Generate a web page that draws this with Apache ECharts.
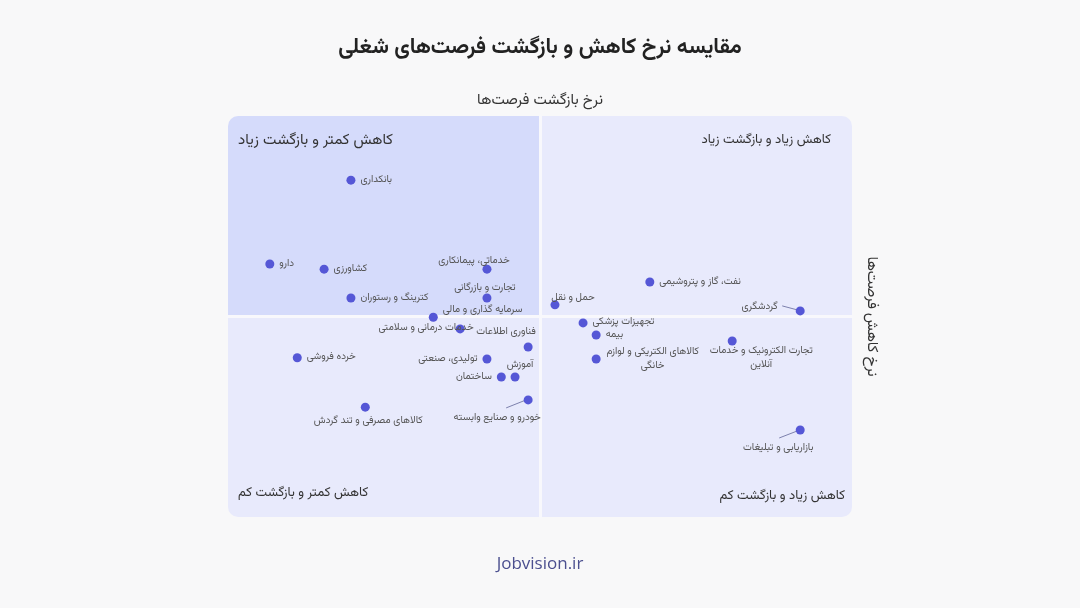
<!DOCTYPE html>
<html><head><meta charset="utf-8">
<script src="https://cdn.jsdelivr.net/npm/echarts@6/dist/echarts.min.js"></script>
<style>html,body{margin:0;padding:0;background:#f8f8f9;}#c{width:1080px;height:608px;}</style>
</head><body><div id="c"></div>
<script>
var FONT = '"Vazirmatn","Noto Sans Arabic","DejaVu Sans",sans-serif';
var titleText = 'مقایسه نرخ کاهش و بازگشت فرصت‌های شغلی';
var xAxisName = 'نرخ کاهش فرصت‌ها';
var yAxisName = 'نرخ بازگشت فرصت‌ها';
var footerText = 'Jobvision.ir';

// industries: names, decline (x, centred at 0) and return (y, centred at 0)
var industries = ['بانکداری','دارو','کشاورزی','خدماتی، پیمانکاری','تجارت و بازرگانی','کترینگ و رستوران','سرمایه گذاری و مالی','خدمات درمانی و سلامتی','فناوری اطلاعات','تولیدی، صنعتی','آموزش','ساختمان','خودرو و صنایع وابسته','کالاهای مصرفی و تند گردش','خرده فروشی','نفت، گاز و پتروشیمی','حمل و نقل','گردشگری','تجهیزات پزشکی','بیمه','کالاهای الکتریکی و لوازم\nخانگی','تجارت الکترونیک و خدمات\nآنلاین','بازاریابی و تبلیغات'];
var declineRate = [-30.3,-43.3,-34.6,-8.5,-8.5,-30.3,-17.1,-12.8,-1.9,-8.5,-4.0,-6.2,-1.9,-28.0,-38.9,17.6,2.4,41.7,6.9,9.0,9.0,30.8,41.7];
var returnRate  = [34.0,13.1,11.8,11.8,4.6,4.6,-0.2,-3.1,-7.6,-10.6,-15.1,-15.1,-20.8,-22.6,-10.3,8.6,2.9,1.4,-1.6,-4.6,-10.6,-6.1,-28.3];

// quadrants: [xFrom, xTo, yFrom, yTo], names
var quadrantBounds = [[-50,0,0,50],[0,50,0,50],[-50,0,-50,0],[0,50,-50,0]];
var quadrantNames = ['کاهش کمتر و بازگشت زیاد','کاهش زیاد و بازگشت زیاد','کاهش کمتر و بازگشت کم','کاهش زیاد و بازگشت کم'];

// label placement per point (style only): position, pixel shift, optional leader line offsets
var labelCfg = [
 {p:'right'},{p:'right'},{p:'right'},
 {p:'top',d:[-13,9]},{p:'top',d:[-2,7]},
 {p:'right'},{p:'right',d:[0,-7]},
 {p:'left',d:[23,0]},{p:'top',d:[-22,2]},
 {p:'left'},{p:'top',d:[5,5]},{p:'left'},
 {p:'bottom',d:[-31,2],line:[[-2,0],[-22,8]]},{p:'bottom',d:[3,-2]},
 {p:'right'},{p:'right'},{p:'top',d:[18,10]},
 {p:'left',d:[-13,-3],line:[[-18,-5],[-3,-1]]},{p:'right'},{p:'right'},
 {p:'right',align:'center',d:[47,0]},{p:'bottom',d:[29,-6],align:'center'},
 {p:'bottom',d:[-22,2],line:[[-3,1],[-21,8]]}
];

var scatterData = industries.map(function(n,i){
  var c = labelCfg[i];
  var d = {name:n, value:[declineRate[i], returnRate[i]], label:{position:c.p}};
  if(c.align) d.label.align = c.align;
  return d;
});
var leaderData = [];
labelCfg.forEach(function(c,i){ if(c.line) leaderData.push([declineRate[i], returnRate[i], i]); });

var quadColors = ['#d5dbfb','#e8eafc','#e8eafc','#e8eafc'];
var quadRadius = [[10,0,0,0],[0,10,0,0],[0,0,0,10],[0,0,10,0]];
var quadFont = [15,13,13,13];

var chart = echarts.init(document.getElementById('c'));
chart.setOption({
  backgroundColor:'#f8f8f9',
  animation:false,
  textStyle:{fontFamily:FONT},
  title:[
    {text:titleText,left:'center',top:34,textStyle:{fontFamily:FONT,fontSize:21.5,fontWeight:'bold',color:'#222'}},
    {text:footerText,left:'center',top:551,textStyle:{fontFamily:'"Open Sans",sans-serif',fontSize:17,fontWeight:'normal',color:'#4b4f8f'}}
  ],
  grid:{left:228,right:228,top:116,bottom:91},
  xAxis:{type:'value',min:-50,max:50,z:3,name:xAxisName,nameLocation:'end',nameRotate:-90,nameGap:26,
    nameTextStyle:{fontFamily:FONT,fontSize:15,color:'#333',align:'center',verticalAlign:'top'},
    axisLine:{show:true,onZero:true,lineStyle:{color:'#f8f8fc',width:3}},
    axisTick:{show:false},axisLabel:{show:false},splitLine:{show:false}},
  yAxis:{type:'value',min:-50,max:50,z:3,name:yAxisName,nameLocation:'end',nameGap:7,
    nameTextStyle:{fontFamily:FONT,fontSize:15,color:'#333',align:'center'},
    axisLine:{show:true,onZero:true,lineStyle:{color:'#f8f8fc',width:3}},
    axisTick:{show:false},axisLabel:{show:false},splitLine:{show:false}},
  series:[
    {type:'custom',z:1,silent:true,
     data:quadrantBounds.map(function(b,i){return b.concat([i]);}),
     renderItem:function(params,api){
       var i = api.value(4);
       var p1 = api.coord([api.value(0),api.value(3)]);
       var p2 = api.coord([api.value(1),api.value(2)]);
       var w = p2[0]-p1[0], h = p2[1]-p1[1];
       var tx, ty, align;
       if(i===0){tx=p1[0]+10;ty=p1[1]+26;align='left';}
       else if(i===1){tx=p2[0]-21;ty=p1[1]+25;align='right';}
       else if(i===2){tx=p1[0]+10;ty=p2[1]-23;align='left';}
       else {tx=p2[0]-7;ty=p2[1]-20;align='right';}
       return {type:'group',children:[
         {type:'rect',shape:{x:p1[0],y:p1[1],width:w,height:h,r:quadRadius[i]},style:{fill:quadColors[i]}},
         {type:'text',style:{text:quadrantNames[i],x:tx,y:ty,align:align,verticalAlign:'middle',
           font:quadFont[i]+'px '+FONT,fill:'#333'}}
       ]};
     }},
    {type:'custom',z:4,silent:true,data:leaderData,
     renderItem:function(params,api){
       var c = labelCfg[api.value(2)];
       var pt = api.coord([api.value(0),api.value(1)]);
       return {type:'line',shape:{x1:pt[0]+c.line[0][0],y1:pt[1]+c.line[0][1],x2:pt[0]+c.line[1][0],y2:pt[1]+c.line[1][1]},
         style:{stroke:'#7d81ad',lineWidth:1}};
     }},
    {type:'scatter',z:5,symbolSize:9,data:scatterData,
     itemStyle:{color:'#5557d6',opacity:1},
     label:{show:true,formatter:'{b}',fontFamily:FONT,fontSize:10,color:'#555',distance:5,lineHeight:14},
     labelLayout:function(p){
       var c = labelCfg[p.dataIndex];
       var d = (c && c.d) || [0,0];
       return {dx:d[0],dy:d[1]};
     }}
  ]
});
</script></body></html>
